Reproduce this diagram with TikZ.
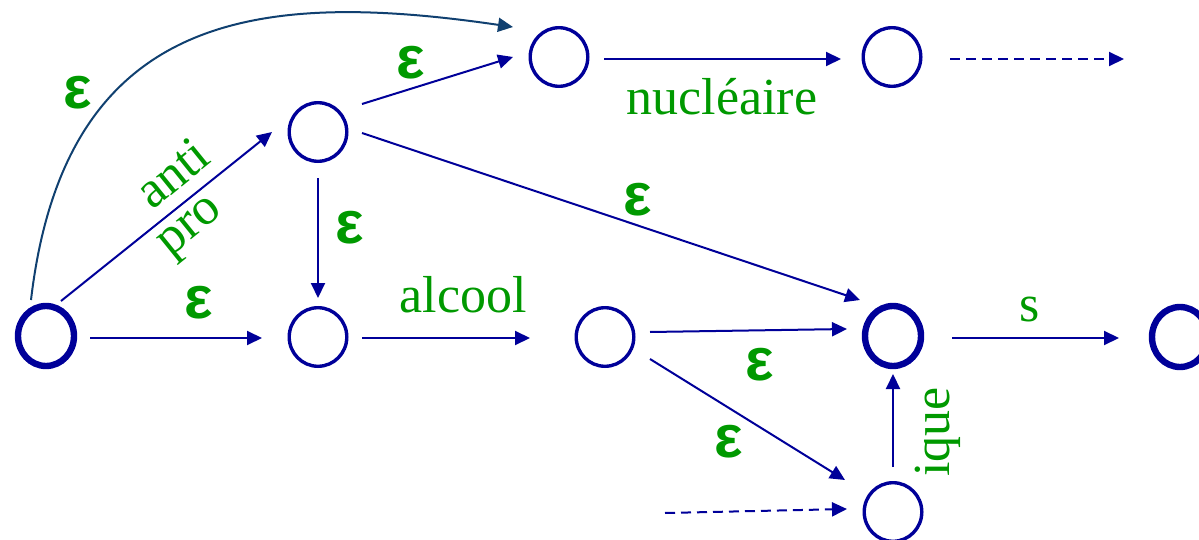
\documentclass[tikz,border=0pt]{standalone}
\usepackage{fontspec}
\setmainfont{Liberation Serif}
\newfontfamily\epsfont{Liberation Sans}
\usetikzlibrary{arrows.meta,calc,shapes.geometric}
\definecolor{navy}{RGB}{0,0,153}
\definecolor{curvec}{RGB}{16,64,112}
\definecolor{lgreen}{RGB}{0,153,0}
\tikzset{
 st/.style={ellipse,draw=navy,line width=1.7pt,minimum width=28.8pt,minimum height=29.3pt,inner sep=0pt},
 fin/.style={ellipse,draw=navy,line width=3.2pt,minimum width=28pt,minimum height=30pt,inner sep=0pt},
 edge/.style={draw=navy,line width=1pt,-{Triangle[length=7.5pt,width=7pt]}},
 cedge/.style={edge,draw=curvec},
 dedge/.style={edge,dash pattern=on 5pt off 3pt},
 lab/.style={text=lgreen,font=\fontsize{26}{30}\selectfont,inner sep=0pt},
 eps/.style={text=lgreen,font=\epsfont\bfseries\fontsize{30}{34}\selectfont,inner sep=0pt},
}
\begin{document}
\begin{tikzpicture}[x=0.5pt,y=-0.5pt]
\useasboundingbox (0,0) rectangle (1199,540);
% states
\node[fin] (S0) at (46,336) {};
\node[st] (A) at (318,132) {};
\node[st] (B) at (559,57) {};
\node[st] (C) at (892,57) {};
\node[st] (D) at (318,337) {};
\node[st] (E) at (605,337) {};
\node[fin] (F) at (893,336) {};
\node[fin] (G) at (1180,337) {};
\node[st] (H) at (893,512) {};
\coordinate (Cout) at (1124,59);
\coordinate (Hin) at (665,513);
% edges
\draw[edge] ($(S0)+(15,-35)$) -- ($(A)+(-46,0)$);
\draw[edge] ($(S0)+(44,2)$) -- ($(D)+(-56,1)$);
\draw[cedge] ($(S0)+(-15,-36)$) .. controls (65,10) and (260,-10) .. ($(B)+(-46,-30)$);
\draw[edge] ($(A)+(44,-28)$) -- ($(B)+(-46,0)$);
\draw[edge] ($(A)+(44,1)$) -- ($(F)+(-33,-36)$);
\draw[edge] ($(A)+(0,46)$) -- ($(D)+(0,-39)$);
\draw[edge] ($(D)+(44,1)$) -- ($(E)+(-75,1)$);
\draw[edge] ($(B)+(45,2)$) -- ($(C)+(-51,2)$);
\draw[dedge] ($(C)+(58,2)$) -- (Cout);
\draw[edge] ($(E)+(45,-5)$) -- ($(F)+(-46,-7)$);
\draw[edge] ($(E)+(45,22)$) -- ($(H)+(-48,-32)$);
\draw[edge] ($(H)+(0,-45)$) -- ($(F)+(0,38)$);
\draw[dedge] (Hin) -- ($(H)+(-46,-3)$);
\draw[edge] ($(F)+(59,2)$) -- ($(G)+(-61,1)$);
% labels
\node[eps] (e1) at (78,93) {ε};
\node[eps] (e2) at (411,63) {ε};
\node[eps] (e3) at (350,228) {ε};
\node[eps] (e4) at (199,303) {ε};
\node[eps] (e5) at (638,200) {ε};
\node[eps] (e6) at (760,365) {ε};
\node[eps] (e7) at (729,442) {ε};
\node[lab,rotate=39] (lanti) at (172,173) {anti};
\node[lab,rotate=39] (lpro) at (193,230) {pro};
\node[lab,anchor=base] (lalc) at (463,312) {alcool};
\node[lab,anchor=base] (lnuc) at (722,115) {nucléaire};
\node[lab,anchor=base] (ls) at (1030,321) {s};
\node[lab,rotate=90] (lique) at (938,432) {ique};
\end{tikzpicture}
\end{document}
